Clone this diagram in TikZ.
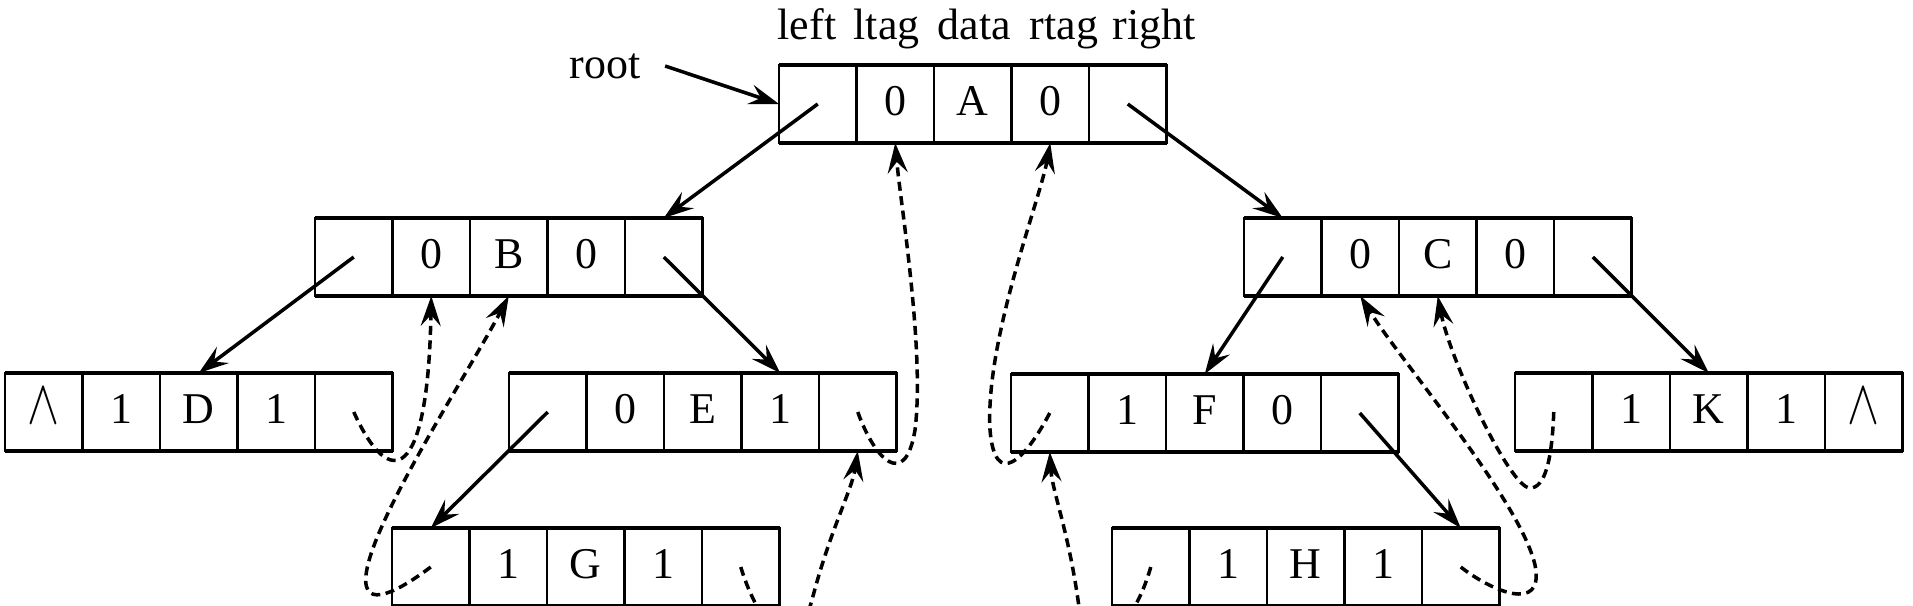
\documentclass[tikz,border=0pt]{standalone}
\usepackage{fontspec}
\setmainfont{Liberation Serif}
\usepackage{graphicx}
\usepackage{tikz}
\usetikzlibrary{arrows.meta}

\newcommand{\nul}{\resizebox{3.2mm}{3.5mm}{$\wedge$}}

\begin{document}
\begin{tikzpicture}[x=0.1mm,y=-0.1mm,
  cell/.style={draw,line width=0.6pt,minimum width=7.75mm,minimum height=7.8mm,
               inner sep=0pt,outer sep=0pt,font=\fontsize{12.5}{15}\selectfont,
               text height=0.68em,text depth=0pt},
  rim/.style={line width=0.9pt},
  lbl/.style={font=\fontsize{12.5}{15}\selectfont,inner sep=0pt},
  link/.style={-{Stealth[length=3mm,width=2mm,inset=1.1mm]},line width=1pt},
  thread/.style={link,dash pattern=on 0.9mm off 0.55mm}]

  \useasboundingbox (0,0) rectangle (1913,605);

  % records: name / left x / centre y / left ltag data rtag right
  \foreach \nm/\xx/\yy/\a/\b/\c/\d/\e in {
      A/779/104/{}/0/A/0/{}, B/315/257/{}/0/B/0/{}, C/1244/257/{}/0/C/0/{},
      D/5/412/\nul/1/D/1/{}, E/509/412/{}/0/E/1/{}, F/1011/413/{}/1/F/0/{},
      K/1515/412/{}/1/K/1/\nul, G/392/567/{}/1/G/1/{}, H/1112/567/{}/1/H/1/{}} {
    \foreach \t [count=\i] in {\a,\b,\c,\d,\e}
      \node[cell] (\nm\i) at ({\xx+(\i-0.5)*77.5},\yy) {\t};
    \draw[rim] (\nm1.north west) -- (\nm5.north east)
               (\nm1.south west) -- (\nm5.south east);
  }

  % field names over the root record
  \foreach \w/\xx in {left/777, ltag/853, data/937, rtag/1029, right/1112}
    \node[lbl,anchor=base west] (hd-\w) at (\xx,39) {\w};

  \node[lbl,inner xsep=2.4mm] (root) at (605,66) {root};
  \draw[link] (root.east) -- (A1.west);

  % child pointers
  \draw[link] (A1.center) -- (B5.north);
  \draw[link] (A5.center) -- (C1.north);
  \draw[link] (B1.center) -- (D3.north);
  \draw[link] (B5.center) -- (E4.north);
  \draw[link] (E1.center) -- (G1.north);
  \draw[link] (C1.center) -- (F3.north);
  \draw[link] (C5.center) -- (K3.north);
  \draw[link] (F5.center) -- (H5.north);

  % threads (inorder D B G E A F H C K)
  \draw[thread] (D5.center) .. controls (390,492) and (428,482) .. (B2.south);
  \draw[thread] (G1.center) .. controls (400,590) and (362,612) .. (366,575)
                 .. controls (372,520) and (470,370) .. (B3.south);
  \draw[thread] (G5.center) .. controls (760,630) and (795,660) .. (812,600)
                 .. controls (830,530) and (852,490) .. (E5.south);
  \draw[thread] (E5.center) .. controls (875,460) and (905,490) .. (915,430)
                 .. controls (925,350) and (900,200) .. (A2.south);
  \draw[thread] (F1.center) .. controls (1025,460) and (995,490) .. (990,430)
                 .. controls (985,340) and (1040,200) .. (A4.south);
  \draw[thread] (H1.center) .. controls (1130,640) and (1085,660) .. (1078,600)
                 .. controls (1068,530) and (1052,490) .. (F1.south);
  \draw[thread] (H5.center) .. controls (1490,590) and (1545,615) .. (1535,565)
                 .. controls (1520,500) and (1400,360) .. (C2.south);
  \draw[thread] (K1.center) .. controls (1552,460) and (1545,488) .. (1530,488)
                 .. controls (1510,488) and (1450,360) .. (C3.south);

\end{tikzpicture}
\end{document}
